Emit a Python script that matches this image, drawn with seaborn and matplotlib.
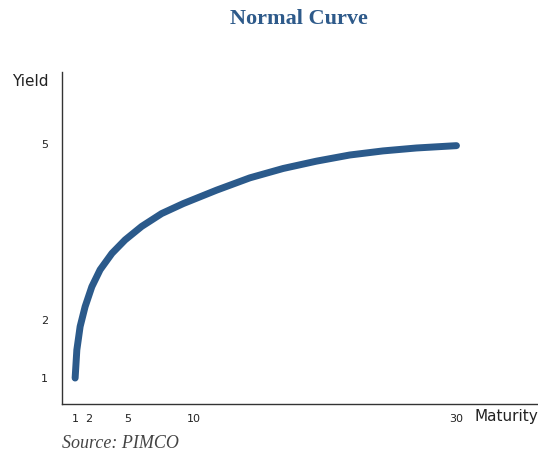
import matplotlib
matplotlib.use("Agg")
import matplotlib.pyplot as plt
import seaborn as sns
import pandas as pd

maturity = [1, 1.13, 1.38, 1.76, 2.27, 2.9, 3.8, 4.8, 6.06, 7.58, 9.22,
            11.76, 14.29, 16.82, 19.35, 21.88, 24.41, 26.95, 30]
yields = [1.0, 1.48, 1.88, 2.22, 2.56, 2.85, 3.13, 3.36, 3.59, 3.81, 3.98,
          4.21, 4.42, 4.58, 4.705, 4.81, 4.88, 4.93, 4.97]
x_ticks = [1, 2, 5, 10, 30]
y_ticks = [1, 2, 5]

df = pd.DataFrame({"Maturity": maturity, "Yield": yields})

sns.set_theme(style="white")
fig = plt.figure(figsize=(5.38, 4.55), dpi=100)
ax = fig.add_axes([0.1152, 0.112, 0.8848, 0.730])

sns.lineplot(data=df, x="Maturity", y="Yield", ax=ax, color="#2b5a8b",
             linewidth=5, solid_capstyle="round", solid_joinstyle="round")

ax.set_xlim(0, 36.2)
ax.set_ylim(0.556, 6.23)
ax.set_xticks(x_ticks)
ax.set_xticklabels([str(t) for t in x_ticks])
ax.set_yticks(y_ticks)
ax.set_yticklabels([str(t) for t in y_ticks])
ax.tick_params(axis="both", length=0, labelsize=8, colors="#222222")
ax.tick_params(axis="y", pad=10)
ax.tick_params(axis="x", pad=7)
ax.set_xlabel("")
ax.set_ylabel("")
sns.despine(ax=ax)
for s in ["left", "bottom"]:
    ax.spines[s].set_color("#333333")
    ax.spines[s].set_linewidth(1.0)

fig.text(0.556, 0.958, "Normal Curve", ha="center", va="center",
         family="Liberation Serif", fontweight="bold", fontsize=16, color="#2e5a8a")
fig.text(12 / 538, 1 - 81 / 455, "Yield", ha="left", va="center", fontsize=11, color="#222222")
fig.text(1.0, 1 - 417 / 455, "Maturity", ha="right", va="center", fontsize=11, color="#222222")
fig.text(62 / 538, 1 - 444 / 455, "Source: PIMCO", ha="left", va="center",
         family="Liberation Serif", style="italic", fontsize=13, color="#444444")

fig.savefig("out.png", dpi=100)
